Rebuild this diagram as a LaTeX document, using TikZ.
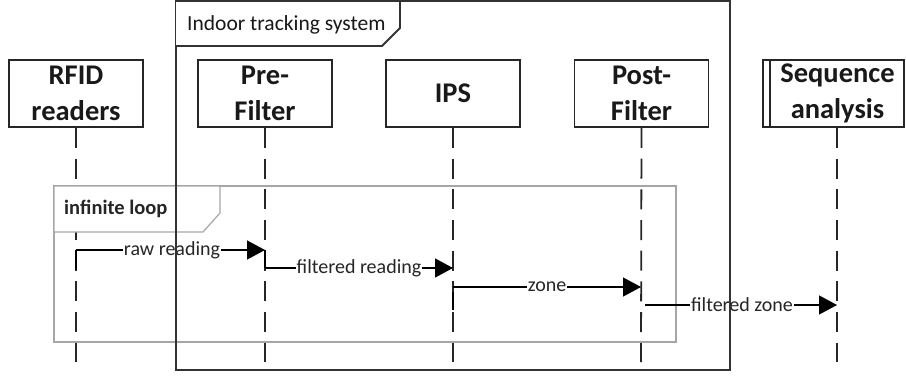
\documentclass[tikz,border=0pt]{standalone}
\usepackage{fontspec}
\setmainfont{Carlito}
\usetikzlibrary{arrows.meta}
\tikzset{
  obj/.style={draw=black!85, line width=1.8pt, fill=white, minimum width=134pt, minimum height=67pt, inner sep=0pt, align=center, font=\bfseries\fontsize{28.5}{36}\selectfont, text=black!90},
  life/.style={line width=1.8pt, black!85, dash pattern=on 20pt off 10.7pt},
  msg/.style={line width=1.3pt, black, -{Triangle[length=18pt,width=19pt]}},
  tick/.style={line width=1.3pt, black},
  lbl/.style={fill=white, inner sep=1pt, font=\fontsize{20}{24}\selectfont, text=black!85},
  frm/.style={line width=1.8pt, black!80},
  loopf/.style={line width=1.2pt, black!35},
}
\begin{document}
\begin{tikzpicture}[x=1pt,y=-1pt]
\useasboundingbox (0,0) rectangle (906,378);
% objects
\node[obj] (rfid) at (76,93.5) {RFID\\readers};
\node[obj] (pre) at (265,93.5) {Pre-\\Filter};
\node[obj] (ips) at (453,93.5) {IPS};
\node[obj] (post) at (641.5,93.5) {Post-\\Filter};
\node[obj, minimum width=141pt] (seq) at (833.5,93.5) {\hspace*{8pt}Sequence\\\hspace*{8pt}analysis};
\draw[line width=1.4pt, black!85] ([xshift=8pt]seq.north west) -- ([xshift=8pt]seq.south west);
% lifeline ends
\coordinate (rfidE) at (76,362);
\coordinate (preE) at (265,362);
\coordinate (ipsE) at (453,362);
\coordinate (postE) at (641,362);
\coordinate (seqE) at (837,362);
\draw[life] (rfid.south) -- (rfidE);
\draw[life] (pre.south) -- (preE);
\draw[life] (ips.south) -- (ipsE);
\draw[life] (post.south) -- (postE);
\draw[life] (seq.south -| seqE) -- (seqE);
% loop frame
\draw[loopf] (54,186) rectangle (676,342);
\draw[loopf, fill=white] (54,186) -- (220,186) -- (220,213) -- (203,232) -- (54,232) -- cycle;
\node[anchor=west, font=\bfseries\fontsize{20.5}{24}\selectfont, text=black!85, inner sep=0pt] (looplbl) at (64,209) {infinite loop};
% messages
\coordinate (m1s) at (76,250);
\coordinate (m1e) at (265,250);
\coordinate (m2s) at (265,268);
\coordinate (m2e) at (453,268);
\coordinate (m3s) at (453,287);
\coordinate (m3e) at (641,287);
\coordinate (m4s) at (645,305);
\coordinate (m4e) at (837,305);
\draw[tick] (m1s) -- ++(0,20);
\draw[tick] (m1e) -- (m2s);
\draw[tick] ([yshift=-5pt]m3s) -- ++(0,18);
\draw[msg] (m1s) -- (m1e);
\draw[msg] (m2s) -- (m2e);
\draw[msg] (m3s) -- (m3e);
\draw[msg] (m4s) -- (m4e);
\node[lbl] (l1) at (172,250) {raw reading};
\node[lbl] (l2) at (359,268) {filtered reading};
\node[lbl] (l3) at (547,287) {zone};
\node[lbl] (l4) at (742,305) {filtered zone};
% system frame
\draw[frm] (176,0) -- (176,370) -- (730,370) -- (730,0);
\draw[frm] (176,1) -- (730,1);
\draw[frm, fill=white] (176,1) -- (400,1) -- (400,28) -- (382,46) -- (176,46);
\node[anchor=west, font=\fontsize{21.5}{24}\selectfont, text=black!90, inner sep=0pt] (syslbl) at (187,25) {Indoor tracking system};
\end{tikzpicture}
\end{document}
